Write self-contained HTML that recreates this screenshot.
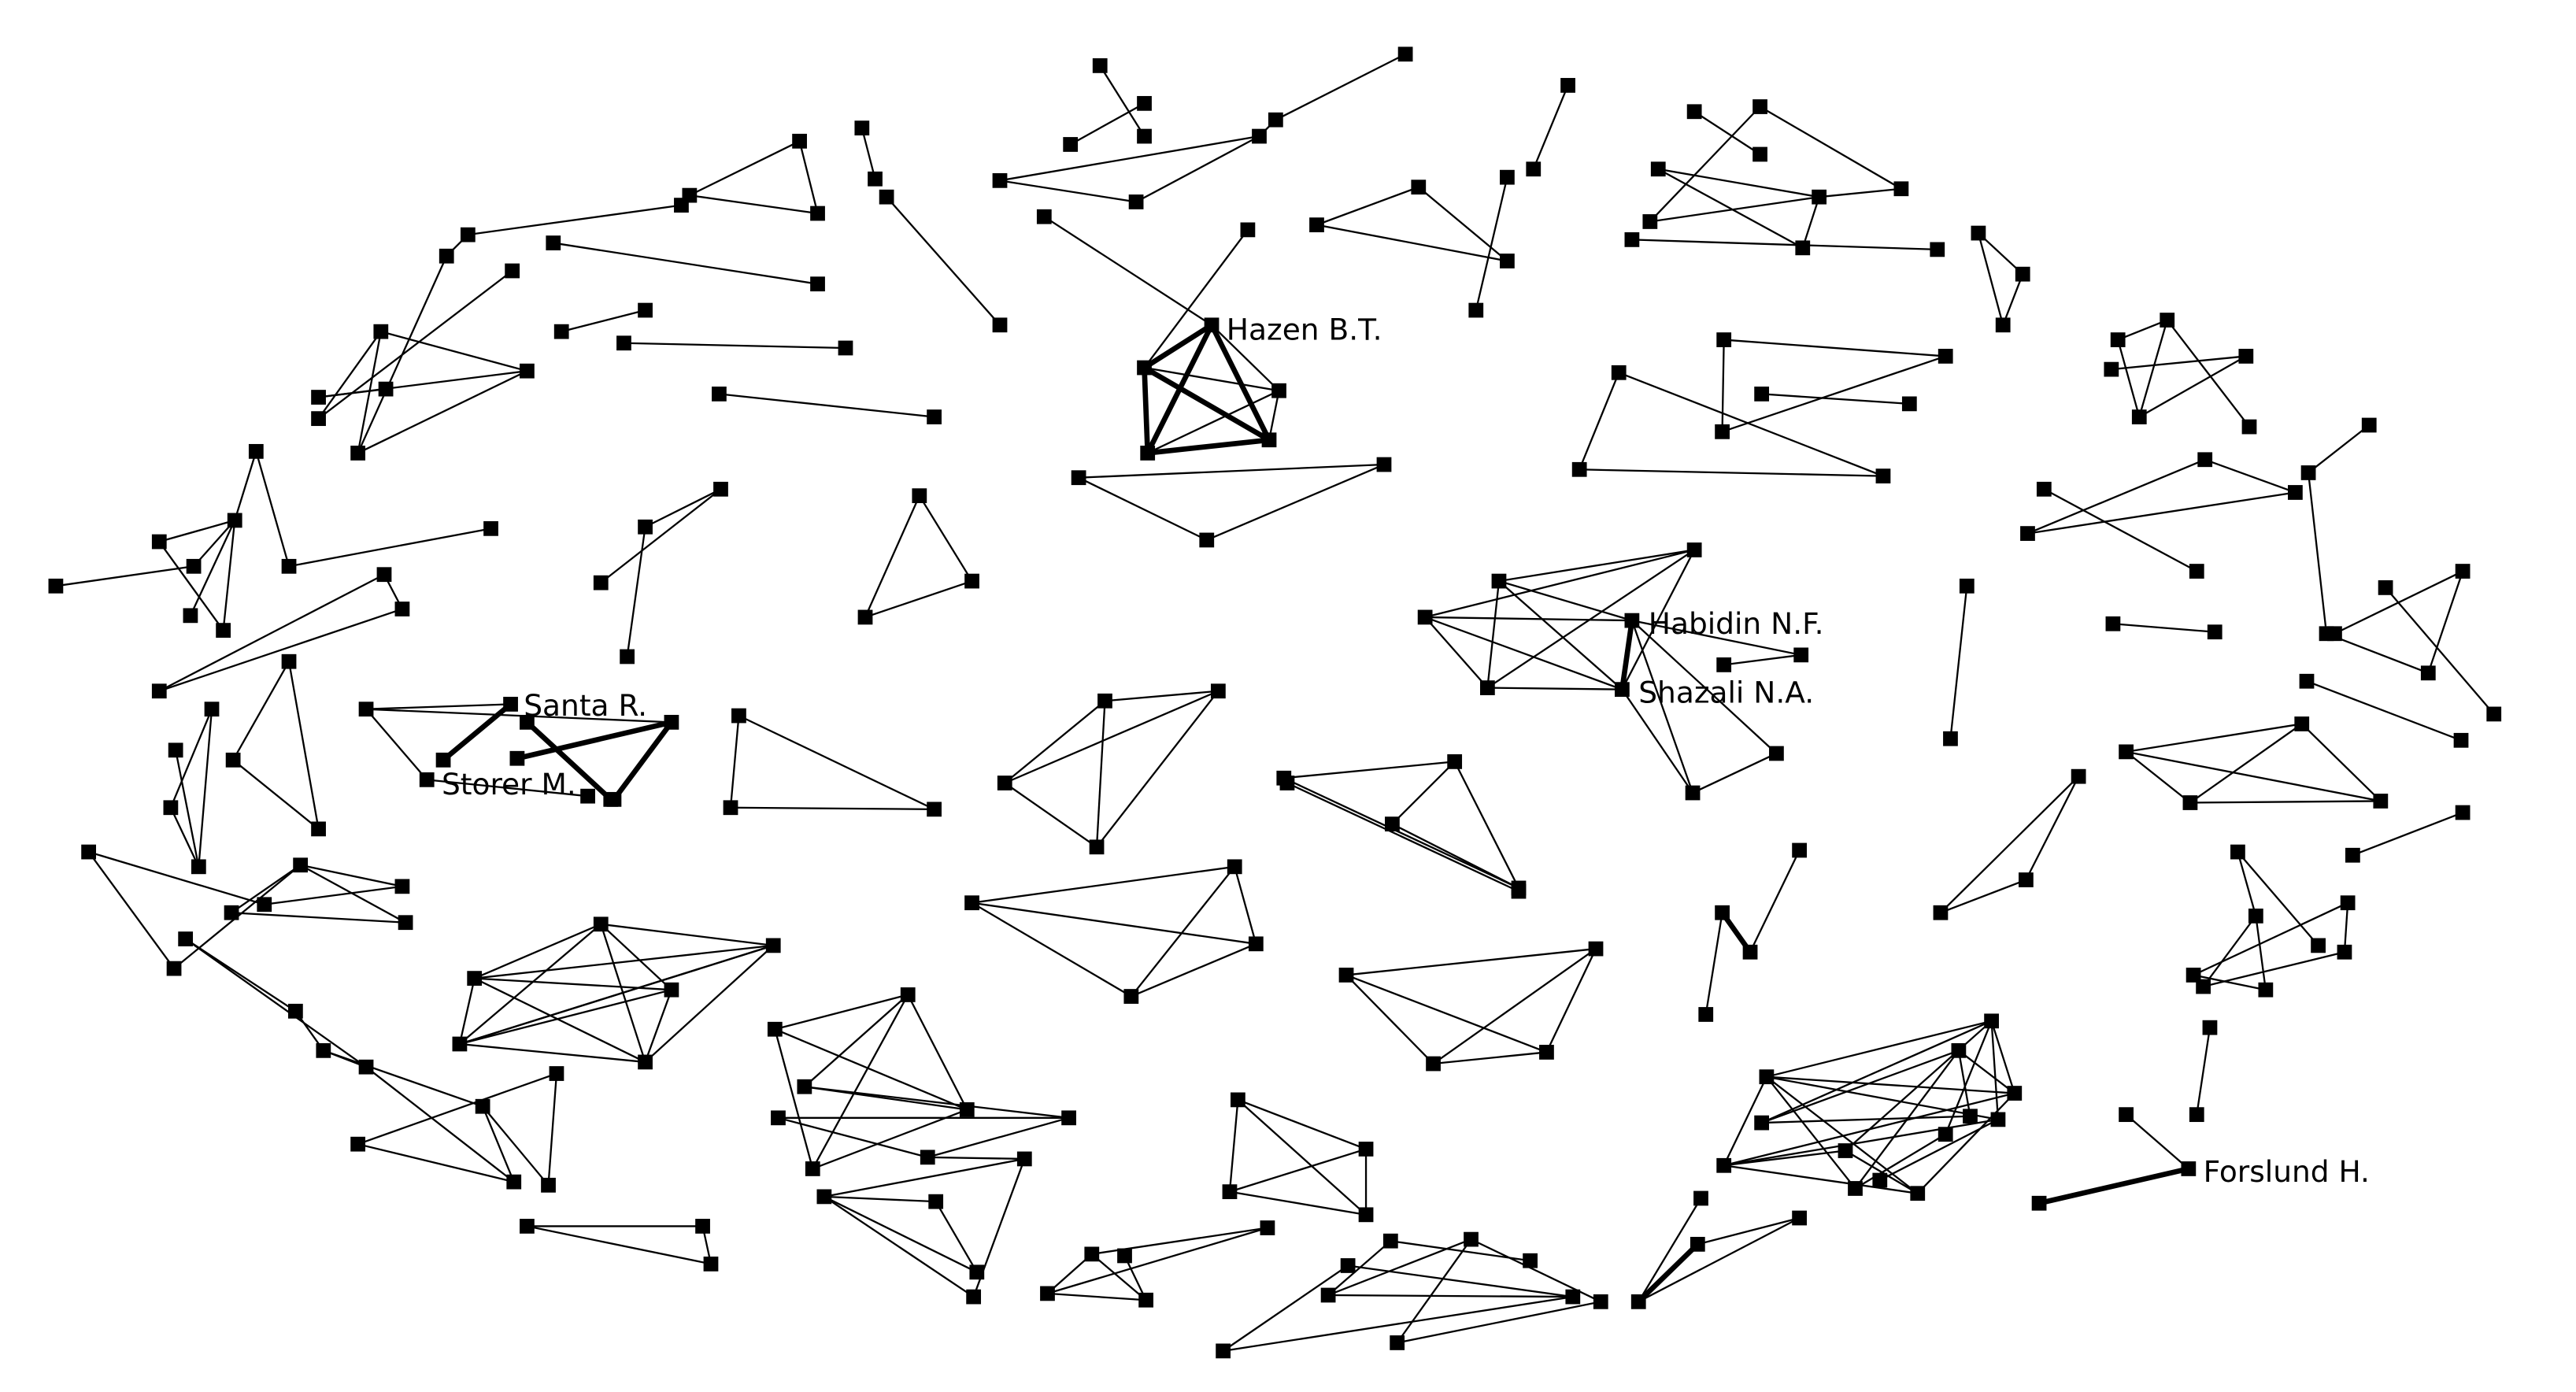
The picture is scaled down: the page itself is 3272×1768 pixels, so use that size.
<!DOCTYPE html>
<html><head><meta charset="utf-8"><style>
html,body{margin:0;padding:0;background:#fff;width:3272px;height:1768px;overflow:hidden}
svg{display:block}
text{font-family:"DejaVu Sans","Liberation Sans",sans-serif;font-size:18px;fill:#000}
</style></head><body>
<svg id="s" width="3272" height="1768" viewBox="0 0 1569 848" preserveAspectRatio="none" xmlns="http://www.w3.org/2000/svg">
<g id="e" stroke="#000" stroke-width="1.1" fill="none"></g>
<g id="t" stroke="#000" stroke-width="3.2" fill="none"></g>
<g id="n" fill="#000"></g>
<text x="747" y="207">Hazen B.T.</text>
<text x="1004" y="386">Habidin N.F.</text>
<text x="998" y="428">Shazali N.A.</text>
<text x="319" y="436">Santa R.</text>
<text x="269" y="484">Storer M.</text>
<text x="1342" y="720">Forslund H.</text>
</svg>
<script>
var E=[
[487,86,420,119],[487,86,498,130],[420,119,498,130],[285,143,415,125],[337,148,498,173],[272,156,218,276],[312,165,194,255],[272,156,285,143],
[232,202,321,226],[232,202,218,276],[194,242,321,226],[194,255,232,202],[218,276,321,226],[194,242,235,237],
[342,202,393,189],[380,209,515,212],[438,240,569,254],[525,78,533,109],[540,120,609,198],
[670,40,697,83],[652,88,697,63],[609,110,767,83],[609,110,692,123],[692,123,767,83],[767,83,777,73],[777,73,856,33],
[636,132,738,198],[697,224,779,238],[699,276,779,238],[779,238,773,268],[738,198,779,238],[760,140,697,224],
[657,291,843,283],[657,291,735,329],[735,329,843,283],
[802,137,864,114],[864,114,918,159],[802,137,918,159],[918,108,899,189],[934,103,955,52],
[1032,68,1072,94],[1072,65,1005,135],[1072,65,1158,115],[1010,103,1098,151],[1010,103,1108,120],[1005,135,1108,120],[1108,120,1098,151],[1108,120,1158,115],[994,146,1180,152],
[1205,142,1232,167],[1232,167,1220,198],[1205,142,1220,198],
[1050,207,1185,217],[1050,207,1049,263],[1049,263,1185,217],[1073,240,1163,246],[986,227,962,286],[986,227,1147,290],[962,286,1147,290],
[1290,207,1320,195],[1320,195,1370,260],[1286,225,1368,217],[1303,254,1368,217],[1290,207,1303,254],[1320,195,1303,254],
[1245,298,1338,348],[1235,325,1343,280],[1235,325,1398,300],[1343,280,1398,300],
[1443,259,1406,288],[1406,288,1417,386],[1422,386,1500,348],[1453,358,1519,435],[1500,348,1479,410],[1417,386,1479,410],
[1198,357,1188,450],[1287,380,1349,385],[1405,415,1499,451],
[1295,458,1402,441],[1295,458,1450,488],[1402,441,1334,489],[1402,441,1450,488],[1334,489,1450,488],[1295,458,1334,489],
[1266,473,1182,556],[1266,473,1234,536],[1182,556,1234,536],[1433,521,1500,495],
[1363,519,1412,576],[1374,558,1342,601],[1374,558,1380,603],[1430,550,1336,594],[1428,580,1342,601],[1363,519,1374,558],[1336,594,1380,603],[1430,550,1428,580],
[1346,626,1338,679],[1295,679,1333,712],
[868,376,1032,335],[913,354,1032,335],[913,354,994,378],[868,376,994,378],[868,376,988,420],[906,419,1032,335],[906,419,988,420],[906,419,913,354],[868,376,906,419],[913,354,988,420],[994,378,1082,459],[988,420,1031,483],[1031,483,1082,459],[1050,405,1097,399],[994,378,1031,483],[1032,335,988,420],[994,378,1097,399],
[1096,518,1066,580],[1049,556,1039,618],
[1213,622,1076,656],[1193,640,1073,684],[1076,656,1227,666],[1076,656,1217,682],[1076,656,1168,727],[1076,656,1050,710],[1073,684,1200,680],[1073,684,1213,622],[1050,710,1227,666],[1050,710,1124,701],[1050,710,1168,727],[1050,710,1217,682],[1124,701,1213,622],[1124,701,1168,727],[1130,724,1193,640],[1145,719,1217,682],[1185,691,1213,622],[1193,640,1200,680],[1213,622,1217,682],[1213,622,1227,666],[1193,640,1227,666],[1168,727,1227,666],[1076,656,1130,724],[1130,724,1185,691],
[1036,730,998,793],[1034,758,1096,742],[998,793,1096,742],
[745,823,821,771],[745,823,958,790],[809,789,958,790],[847,756,932,768],[809,789,896,755],[851,818,896,755],[821,771,958,790],[851,818,975,793],[896,755,975,793],[809,789,847,756],
[754,670,832,740],[754,670,832,700],[749,726,832,700],[749,726,832,740],[754,670,749,726],[832,700,832,740],
[638,788,698,792],[638,788,665,764],[665,764,698,792],[665,764,772,748],[638,788,772,748],[685,765,698,792],
[472,627,553,606],[472,627,589,676],[472,627,495,712],[553,606,589,676],[553,606,490,662],[490,662,651,681],[474,681,651,681],[490,662,589,676],[495,712,553,606],[495,712,589,676],[565,705,651,681],[502,729,624,706],[502,729,595,775],[502,729,593,790],[570,732,595,775],[565,705,624,706],[624,706,593,790],[502,729,570,732],[474,681,565,705],
[820,594,972,578],[820,594,873,648],[820,594,942,641],[972,578,873,648],[972,578,942,641],[873,648,942,641],
[592,550,752,528],[592,550,765,575],[592,550,689,607],[752,528,765,575],[752,528,689,607],[689,607,765,575],
[782,474,886,464],[782,474,925,541],[784,477,925,543],[886,464,848,502],[886,464,925,541],[848,502,925,541],
[673,427,742,421],[612,477,742,421],[612,477,673,427],[612,477,668,516],[673,427,668,516],[742,421,668,516],
[560,302,527,376],[560,302,592,354],[527,376,592,354],
[450,436,445,492],[445,492,569,493],[450,436,569,493],
[223,432,311,429],[223,432,260,475],[223,432,409,440],[260,475,358,485],
[439,298,393,321],[393,321,382,400],[366,355,439,298],
[299,322,176,345],[34,357,118,345],[156,275,143,317],[156,275,176,345],[97,330,143,317],[97,330,136,384],[143,317,116,375],[143,317,136,384],[118,345,143,317],
[97,421,234,350],[97,421,245,371],[234,350,245,371],
[129,432,104,492],[129,432,121,528],[107,457,121,528],[104,492,121,528],
[176,403,142,463],[176,403,194,505],[142,463,194,505],
[54,519,106,590],[54,519,161,551],[106,590,183,527],[183,527,245,540],[141,556,247,562],[161,551,245,540],[183,527,247,562],[141,556,183,527],
[113,572,180,616],[180,616,197,640],[197,640,223,650],[223,650,313,720],[113,572,223,650],[218,697,339,654],[218,697,313,720],[294,674,313,720],[294,674,334,722],[339,654,334,722],[197,640,294,674],
[321,747,428,747],[428,747,433,770],[321,747,433,770],
[289,596,366,563],[289,596,471,576],[289,596,409,603],[289,596,393,647],[366,563,471,576],[366,563,409,603],[366,563,280,636],[366,563,393,647],[471,576,280,636],[471,576,393,647],[409,603,280,636],[409,603,393,647],[280,636,393,647],[289,596,280,636],[280,636,471,576]
];
var T=[[738,198,697,224],[738,198,699,276],[738,198,773,268],[697,224,773,268],[697,224,699,276],[699,276,773,268],
[994,378,988,420],[1049,556,1066,580],[1242,733,1333,712],[1034,758,998,793],
[311,429,270,463],[321,440,372,487],[409,440,374,487],[315,462,409,440]];
var ns="http://www.w3.org/2000/svg";
function L(g,a){a.forEach(function(c){var l=document.createElementNS(ns,"line");l.setAttribute("x1",c[0]);l.setAttribute("y1",c[1]);l.setAttribute("x2",c[2]);l.setAttribute("y2",c[3]);g.appendChild(l);});}
L(document.getElementById("e"),E);L(document.getElementById("t"),T);
var seen={},g=document.getElementById("n");
E.concat(T).forEach(function(c){[[c[0],c[1]],[c[2],c[3]]].forEach(function(p){var k=p[0]+","+p[1];if(seen[k])return;seen[k]=1;var r=document.createElementNS(ns,"rect");r.setAttribute("x",p[0]-4.5);r.setAttribute("y",p[1]-4.5);r.setAttribute("width",9);r.setAttribute("height",9);g.appendChild(r);});});
</script>
</body></html>
